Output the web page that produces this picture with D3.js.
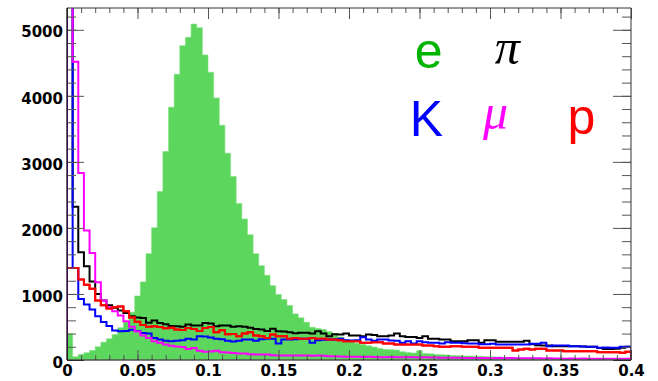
<!DOCTYPE html>
<html>
<head>
<meta charset="utf-8">
<script src="https://cdn.jsdelivr.net/npm/d3@7"></script>
<style>
  html, body { margin: 0; padding: 0; background: #ffffff; }
  svg { display: block; }
</style>
</head>
<body>
<svg id="chart" width="658" height="381"></svg>
<script>
// ---------- data ----------
const xRange = [0, 0.4];
const nBins = 100;
const yMax = 5330;

const eCounts = [396,48,83,109,144,200,270,320,385,487,577,723,970,1182,1610,2003,2552,3157,3828,4326,
  4759,4886,5087,5031,4618,4357,3968,3555,3132,2779,2370,2134,1897,1610,1429,1282,1126,990,915,824,
  698,638,571,496,476,460,430,400,350,310,280,255,235,215,195,175,160,155,150,125,
  115,105,140,100,95,85,80,75,68,65,62,60,57,55,50,48,45,40,38,35,
  30,32,28,25,25,22,20,20,18,18,15,15,15,12,12,15,20,18,15,12];

const piCounts = [6000,2320,1630,1420,1190,1000,900,830,790,750,710,662,645,635,565,597,562,540,515,511,
  502,537,521,521,560,552,511,521,521,505,510,502,490,471,460,440,475,436,430,420,
  405,411,411,400,436,400,360,390,385,400,370,370,360,385,380,360,360,370,400,360,
  350,350,335,360,320,320,310,310,285,285,285,300,300,260,300,300,275,275,275,275,
  275,290,240,225,220,220,210,210,210,210,210,205,199,199,180,165,165,170,185,200];

const kCounts = [6000,1394,925,839,763,662,575,515,445,436,440,458,440,410,400,335,310,290,285,290,
  300,320,310,360,355,340,320,315,290,280,290,310,310,290,315,320,320,250,310,310,
  315,320,320,260,300,305,310,310,320,300,295,300,345,310,290,310,310,295,290,260,
  285,250,285,270,260,260,250,270,260,260,255,250,250,240,240,245,234,234,234,234,
  234,234,245,245,260,209,219,219,219,209,209,205,199,199,184,190,184,184,199,199];

const muCounts = [6500,4517,2830,1962,1620,1176,900,800,740,673,587,505,430,370,335,285,260,235,215,205,
  195,165,180,140,125,128,140,118,115,105,100,100,88,85,85,82,72,70,70,68,
  70,68,68,65,68,65,55,55,52,50,48,48,45,48,45,42,42,45,40,42,
  40,40,38,40,36,38,35,35,33,35,32,30,32,30,30,28,30,28,30,26,
  25,28,25,25,22,25,22,22,20,22,20,22,20,20,18,20,18,18,20,18];

const pCounts = [1394,1394,1220,1140,1080,900,830,780,800,810,740,645,580,530,505,510,500,480,490,460,
  455,485,470,440,485,500,420,450,390,395,360,400,420,370,360,335,385,360,360,320,
  335,320,320,335,320,320,310,310,300,285,285,285,260,260,270,270,250,250,234,234,
  234,234,234,219,219,209,199,199,209,209,199,199,199,184,184,184,184,184,184,144,
  160,169,159,169,169,144,144,144,133,133,133,133,133,133,118,118,118,118,108,125];

const xMajorTicks = [0, 0.05, 0.1, 0.15, 0.2, 0.25, 0.3, 0.35, 0.4];
const xTickLabels = ["0", "0.05", "0.1", "0.15", "0.2", "0.25", "0.3", "0.35", "0.4"];
const yMajorTicks = [0, 1000, 2000, 3000, 4000, 5000];
const yTickLabels = ["0", "1000", "2000", "3000", "4000", "5000"];

const legendLabels = ["e", "\u03C0", "K", "\u03BC", "p"];
const legendColors = ["#00b400", "#000000", "#0000ff", "#ff00ff", "#ff0000"];

// ---------- layout ----------
const L = 67, R = 631, T = 8, B = 360;
const svg = d3.select("#chart");
const x = d3.scaleLinear().domain(xRange).range([L, R]);
const y = d3.scaleLinear().domain([0, yMax]).range([B, T]);
const binW = (xRange[1] - xRange[0]) / nBins;

svg.append("defs").append("clipPath").attr("id", "plotclip")
  .append("rect").attr("x", L + 0.5).attr("y", T + 0.6)
  .attr("width", R - L - 1).attr("height", B - T - 1.2);

function stepPoints(counts) {
  const pts = [[xRange[0], 0]];
  counts.forEach((v, i) => {
    pts.push([xRange[0] + i * binW, v]);
    pts.push([xRange[0] + (i + 1) * binW, v]);
  });
  pts.push([xRange[1], 0]);
  return pts;
}
const line = d3.line().x(d => x(d[0])).y(d => y(d[1]));

const plot = svg.append("g").attr("clip-path", "url(#plotclip)");

// filled electron histogram
plot.append("path")
  .attr("d", line(stepPoints(eCounts)) + "Z")
  .attr("fill", "#5cd65c")
  .attr("stroke", "#7ee07e")
  .attr("stroke-width", 0.6);

// drawing order: pi, p, K, mu
const series = [
  { counts: piCounts, color: "#000000" },
  { counts: pCounts, color: "#ff0000" },
  { counts: kCounts, color: "#0000ff" },
  { counts: muCounts, color: "#ff00ff" }
];
series.forEach(s => {
  plot.append("path")
    .attr("d", line(stepPoints(s.counts)))
    .attr("fill", "none")
    .attr("stroke", s.color)
    .attr("stroke-width", 2)
    .attr("stroke-linejoin", "miter");
});
// proton drawn again on top except for the first bin region (keeps red visible over blue)
plot.append("path")
  .attr("d", line(stepPoints(pCounts).slice(2)))
  .attr("fill", "none")
  .attr("stroke", "#ff0000")
  .attr("stroke-width", 2);

// ---------- axes ----------
const tickColor = "#555";
const xMinor = d3.range(0, 41).map(k => k * 0.01);
const yMinor = d3.range(0, 27).map(k => k * 200);

function styleAxis(g) {
  g.select(".domain").remove();
  g.selectAll(".tick line").attr("stroke", tickColor).attr("stroke-width", 1);
}

// bottom
svg.append("g").attr("transform", `translate(0,${B})`)
  .call(d3.axisBottom(x).tickValues(xMinor).tickSize(-5).tickFormat(""))
  .call(styleAxis);
const xb = svg.append("g").attr("transform", `translate(0,${B})`)
  .call(d3.axisBottom(x).tickValues(xMajorTicks).tickSize(-10)
    .tickFormat((d, i) => xTickLabels[i]))
  .call(styleAxis);
xb.selectAll(".tick text")
  .attr("y", 16).attr("dy", 0)
  .attr("font-family", "DejaVu Sans").attr("font-weight", "bold")
  .attr("font-size", 15).attr("fill", "#000");

// top
svg.append("g").attr("transform", `translate(0,${T})`)
  .call(d3.axisTop(x).tickValues(xMinor).tickSize(-5).tickFormat(""))
  .call(styleAxis);
svg.append("g").attr("transform", `translate(0,${T})`)
  .call(d3.axisTop(x).tickValues(xMajorTicks).tickSize(-11).tickFormat(""))
  .call(styleAxis);

// left
svg.append("g").attr("transform", `translate(${L},0)`)
  .call(d3.axisLeft(y).tickValues(yMinor.filter(v => v <= yMax)).tickSize(-9).tickFormat(""))
  .call(styleAxis);
const yl = svg.append("g").attr("transform", `translate(${L},0)`)
  .call(d3.axisLeft(y).tickValues(yMajorTicks).tickSize(-17)
    .tickFormat((d, i) => yTickLabels[i]))
  .call(styleAxis);
yl.selectAll(".tick text")
  .attr("x", -4).attr("dy", "0.48em")
  .attr("font-family", "DejaVu Sans").attr("font-weight", "bold")
  .attr("font-size", 15).attr("fill", "#000");

// right
svg.append("g").attr("transform", `translate(${R},0)`)
  .call(d3.axisRight(y).tickValues(yMinor.filter(v => v <= yMax)).tickSize(-9).tickFormat(""))
  .call(styleAxis);
svg.append("g").attr("transform", `translate(${R},0)`)
  .call(d3.axisRight(y).tickValues(yMajorTicks).tickSize(-18).tickFormat(""))
  .call(styleAxis);

// frame
svg.append("line").attr("x1", L).attr("x2", R).attr("y1", T).attr("y2", T).attr("stroke", "#333").attr("stroke-width", 1);
svg.append("line").attr("x1", R).attr("x2", R).attr("y1", T).attr("y2", B).attr("stroke", "#333").attr("stroke-width", 1);
svg.append("line").attr("x1", L).attr("x2", L).attr("y1", T).attr("y2", B).attr("stroke", "#000").attr("stroke-width", 1.2);
svg.append("line").attr("x1", L).attr("x2", R).attr("y1", B).attr("y2", B).attr("stroke", "#000").attr("stroke-width", 1.2);

// ---------- legend labels ----------
const legendPos = [
  { cx: 428.7, by: 67.5, italic: false },
  { cx: 507.2, by: 63.5, italic: true },
  { cx: 426.5, by: 136, italic: false },
  { cx: 495.5, by: 128.5, italic: true },
  { cx: 581.5, by: 134, italic: false }
];
legendLabels.forEach((t, i) => {
  const p = legendPos[i];
  svg.append("text")
    .attr("x", p.cx).attr("y", p.by)
    .attr("text-anchor", "middle")
    .attr("font-family", p.italic ? "Liberation Serif" : "Liberation Sans")
    .attr("font-style", p.italic ? "italic" : "normal")
    .attr("font-size", 50)
    .attr("fill", legendColors[i])
    .text(t);
});
</script>
</body>
</html>
